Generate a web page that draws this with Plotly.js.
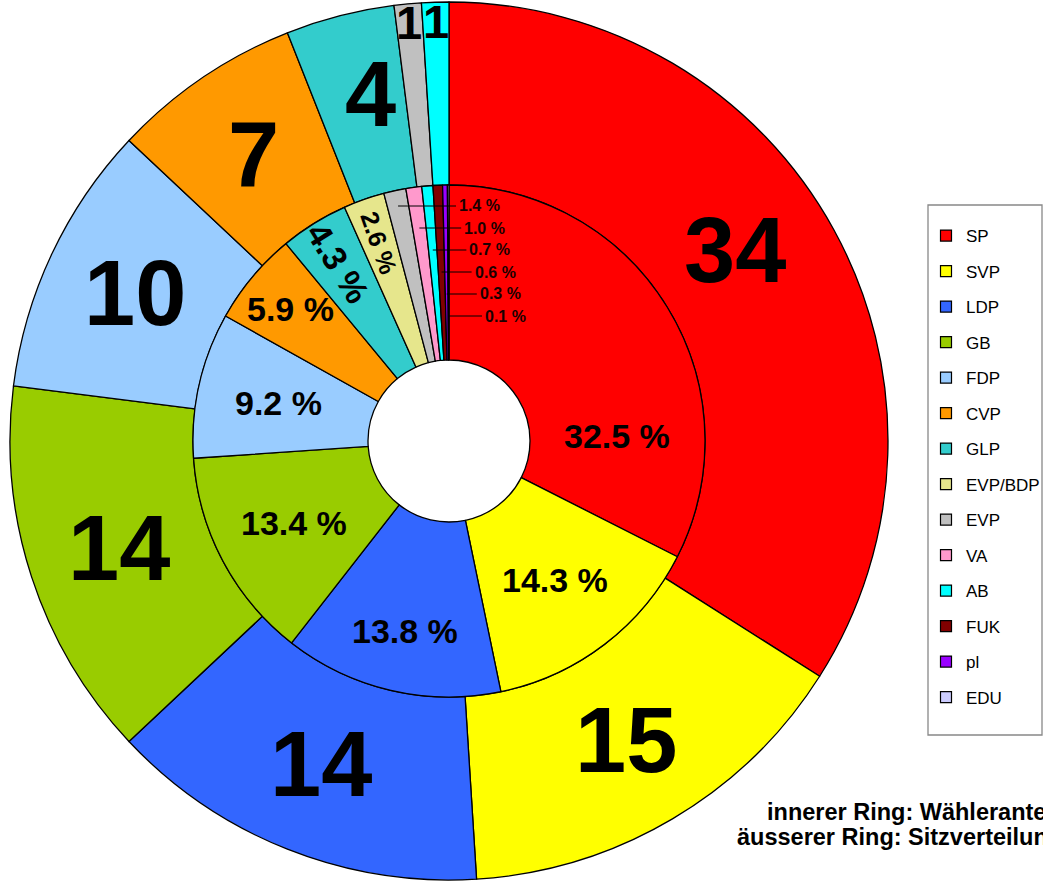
<!DOCTYPE html>
<html><head><meta charset="utf-8">
<script src="https://cdn.plot.ly/plotly-3.0.1.min.js"></script>
<style>html,body{margin:0;padding:0;background:#fff;overflow:hidden}</style>
</head><body><div id="chart" style="width:1043px;height:882px"></div>
<script>
// ---------- data ----------
const parties = ['SP','SVP','LDP','GB','FDP','CVP','GLP','EVP/BDP','EVP','VA','AB','FUK','pl','EDU'];
const voteShare = [32.5,14.3,13.8,13.4,9.2,5.9,4.3,2.6,1.4,1.0,0.7,0.6,0.3,0.1];
const seatParties = ['SP','SVP','LDP','GB','FDP','CVP','GLP','EVP','AB'];
const seats = [34,15,14,14,10,7,4,1,1];
const partyColors = ['#FF0000','#FFFF00','#3366FF','#99CC00','#99CCFF','#FF9900','#33CCCC','#E6E68C','#C0C0C0','#FF99CC','#00FFFF','#800000','#9900FF','#CCCCFF'];
const footLines = ['innerer Ring: Wähleranteil','äusserer Ring: Sitzverteilung'];

// ---------- geometry / style ----------
const W = 1043, H = 882, CX = 449, CY = 441, R_OUT = 439, R_MID = 256, R_HOLE = 81;
const FONT = 'Liberation Sans, Arial, sans-serif';
const colorOf = p => partyColors[parties.indexOf(p)];
const px2paper = (x, y) => [x / W, 1 - y / H];

function midAngles(vals) {
  const tot = vals.reduce((a, b) => a + b, 0);
  let c = 0;
  return vals.map(v => { const m = (c + v / 2) / tot * 360; c += v; return m; });
}
function polar(r, deg) {
  const a = deg * Math.PI / 180;
  return [CX + r * Math.sin(a), CY - r * Math.cos(a)];
}

const annotations = [];
const shapes = [];

// outer ring labels (seats)
const outerMid = midAngles(seats);
const outerTweak = {SP: {dA: -5, r: 344}, GLP: {dA: 1.7, r: 356}};
seats.forEach((v, i) => {
  const small = v <= 1;
  const t = outerTweak[seatParties[i]] || {};
  const [x, y] = polar(t.r || (small ? 420 : (R_MID + R_OUT) / 2), outerMid[i] + (t.dA || 0));
  const [px, py] = px2paper(x, y);
  annotations.push({x: px, y: py, xref: 'paper', yref: 'paper', showarrow: false,
    text: String(v), xanchor: 'center', yanchor: 'middle',
    font: {family: FONT, size: small ? 47 : 92, color: '#000', weight: 'bold'}});
});

// inner ring labels (vote share)
const innerMid = midAngles(voteShare);
const tweak = {SP: {dA: 30, r: 168}, LDP: {r: 195}, CVP: {r: 206}, GLP: {r: 210, rot: true, size: 34}, 'EVP/BDP': {r: 210, rot: true, size: 25}};
let k = 0;
voteShare.forEach((v, i) => {
  const txt = v.toFixed(1) + ' %';
  if (v >= 2) {
    const t = tweak[parties[i]] || {};
    const ang = innerMid[i] + (t.dA || 0);
    const [x, y] = polar(t.r || 175, ang);
    const [px, py] = px2paper(x, y);
    annotations.push({x: px, y: py, xref: 'paper', yref: 'paper', showarrow: false,
      text: txt, xanchor: 'center', yanchor: 'middle', textangle: t.rot ? ang - 270 : 0,
      font: {family: FONT, size: t.size || 34, color: '#000', weight: 'bold'}});
  } else {
    const dy = 235 - 22 * k;
    const yPix = CY - dy;
    const xPoint = CX + dy * Math.tan(innerMid[i] * Math.PI / 180);
    const xLab = 457 + 5.2 * k;
    const [p0x, p0y] = px2paper(xPoint, yPix);
    const [p1x] = px2paper(xLab - 1, yPix);
    shapes.push({type: 'line', xref: 'paper', yref: 'paper', x0: p0x, y0: p0y, x1: p1x, y1: p0y,
      line: {color: '#000', width: 1}});
    const [lx] = px2paper(xLab, yPix);
    annotations.push({x: lx, y: p0y, xref: 'paper', yref: 'paper', showarrow: false,
      text: txt, xanchor: 'left', yanchor: 'middle',
      font: {family: FONT, size: 16, color: '#1a0000', weight: 'bold'}});
    k++;
  }
});

// footnote
[[765, 812], [735, 837]].forEach(([x, y], i) => {
  const [px, py] = px2paper(x, y);
  annotations.push({x: px, y: py, xref: 'paper', yref: 'paper', showarrow: false,
    text: footLines[i], xanchor: 'left', yanchor: 'middle',
    font: {family: FONT, size: 23.5, color: '#000', weight: 'bold'}});
});

// legend frame
const [bx0, by1] = px2paper(928, 205);
const [bx1, by0] = px2paper(1042, 735);
shapes.push({type: 'rect', xref: 'paper', yref: 'paper', x0: bx0, x1: bx1, y0: by0, y1: by1,
  fillcolor: '#fff', line: {color: '#888', width: 1.3}, layer: 'above'});

function domainFor(r) {
  return {x: [(CX - r) / W, (CX + r) / W], y: [1 - (CY + r) / H, 1 - (CY - r) / H]};
}

const traces = [
  {type: 'pie', labels: seatParties, values: seats, sort: false, direction: 'clockwise', rotation: 0,
   marker: {colors: seatParties.map(colorOf), line: {color: '#000', width: 1.3}},
   hole: R_MID / R_OUT, domain: domainFor(R_OUT), textinfo: 'none', showlegend: false},
  {type: 'pie', labels: parties, values: voteShare, sort: false, direction: 'clockwise', rotation: 0,
   marker: {colors: partyColors, line: {color: '#000', width: 1.3}},
   hole: R_HOLE / R_MID, domain: domainFor(R_MID), textinfo: 'none', showlegend: false}
];
// legend entries
parties.forEach((p, i) => {
  traces.push({type: 'scatter', x: [null], y: [null], mode: 'markers', name: p, legendgroup: p,
    marker: {symbol: 'square', size: 11, color: partyColors[i], line: {color: '#000', width: 1.2}},
    hoverinfo: 'skip'});
});

const layout = {
  width: W, height: H, margin: {l: 0, r: 0, t: 0, b: 0, autoexpand: false},
  paper_bgcolor: '#fff', plot_bgcolor: 'rgba(0,0,0,0)',
  xaxis: {visible: false}, yaxis: {visible: false},
  showlegend: true,
  legend: {x: 926 / W, y: 1 - 218 / H, xanchor: 'left', yanchor: 'top',
    borderwidth: 0, bgcolor: 'rgba(0,0,0,0)', tracegroupgap: 10.4, itemwidth: 30,
    traceorder: 'grouped', font: {family: FONT, size: 17, color: '#000'}},
  annotations: annotations, shapes: shapes
};
Plotly.newPlot('chart', traces, layout, {displayModeBar: false, staticPlot: true});
</script></body></html>
